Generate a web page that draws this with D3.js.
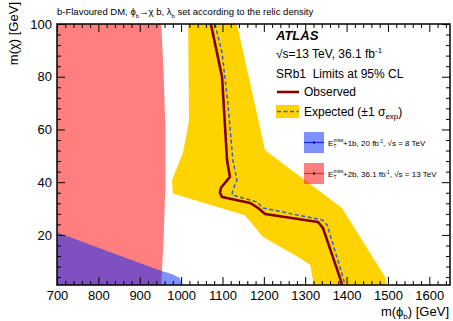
<!DOCTYPE html>
<html>
<head>
<meta charset="utf-8">
<script src="https://d3js.org/d3.v7.min.js"></script>
<style>
  body { margin: 0; background: #fff; }
  svg text { font-family: "Liberation Sans", Arial, sans-serif; fill: #000; }
</style>
</head>
<body>
<div id="chart"></div>
<script>
// ---- data: [m(phi_b) GeV, m(chi) GeV] ----
var observed = [[1072,100],[1099,79.9],[1111,48.4],[1118,42],[1096,37.8],[1094,35.9],[1099,34.4],
  [1167,32.1],[1186,30.2],[1203,27.9],[1331,24.9],[1343,22.6],[1384,3.7],[1389,1]];
var expected = [[1082,100],[1099,89],[1113,70],[1125,48.4],[1135,40.8],[1125,37],[1123,35.2],
  [1183,32.5],[1198,30.2],[1341,25.7],[1353,23.8],[1391,4.1],[1396,1]];
var bandUpper = [[1135,100],[1203,52.1],[1389,30.2],[1493,4],[1498,1]];
var bandLower = [[1017,100],[1019,63.3],[1005,51.5],[978,40.6],[980,35.7],[1154,27.5],
  [1198,19.2],[1287,11.2],[1312,8.6],[1321,1]];
var excl13 = [[700,100],[952,100],[958,80],[962,60],[962,40],[958,20],[952,1],[700,1]];
var excl8 = [[700,1],[700,21],[800,15.1],[900,9.3],[950,6.5],[980,5],[997,3.7],[1003,1]];
var xMajor = [700,800,900,1000,1100,1200,1300,1400,1500,1600];
var yMajor = [20,40,60,80,100];

var W = 453, H = 321;
var margin = {top: 24, right: 3, bottom: 36, left: 57},
    width = W - margin.left - margin.right,
    height = H - margin.top - margin.bottom;

var svg = d3.select("#chart").append("svg")
    .attr("width", W).attr("height", H);

var g = svg.append("g")
    .attr("transform", "translate(" + margin.left + "," + margin.top + ")");

var x = d3.scaleLinear().domain([700, 1650]).range([0, width]);
var y = d3.scaleLinear().domain([1, 100]).range([height, 0]);

g.append("clipPath").attr("id", "clip")
  .append("rect").attr("width", width).attr("height", height);

var plot = g.append("g").attr("clip-path", "url(#clip)");
var line = d3.line().x(function(d) { return x(d[0]); }).y(function(d) { return y(d[1]); });
var area = d3.line().x(function(d) { return x(d[0]); }).y(function(d) { return y(d[1]); }).curve(d3.curveLinearClosed);

// exclusion regions from earlier analyses
plot.append("path").datum(excl13)
    .attr("d", area)
    .attr("fill", "#ff0000").attr("fill-opacity", 0.5);
plot.append("path").datum(excl8)
    .attr("d", area)
    .attr("fill", "#0022ff").attr("fill-opacity", 0.5);

// expected +-1 sigma band
plot.append("path").datum(bandUpper.concat(bandLower.slice().reverse()))
    .attr("d", area)
    .attr("fill", "#ffd300");

plot.append("path").datum(expected)
    .attr("d", line)
    .attr("fill", "none").attr("stroke", "#3a5bd9").attr("stroke-width", 1.5)
    .attr("stroke-dasharray", "4,2.5");

plot.append("path").datum(observed)
    .attr("d", line)
    .attr("fill", "none").attr("stroke", "#800000").attr("stroke-width", 2.6)
    .attr("stroke-linejoin", "round");

// axes with inward ticks on all four sides
var xMinor = d3.range(700, 1651, 20).filter(function(v) { return v % 100 !== 0; });
var yMinor = d3.range(4, 100, 4).filter(function(v) { return v % 20 !== 0; });

function styleAxis(sel) {
  sel.select(".domain").remove();
  sel.selectAll("line").attr("stroke", "#000").attr("stroke-width", 1);
  sel.selectAll("text").style("font-size", "13px").attr("fill", "#000");
}

g.append("g").attr("transform", "translate(0," + height + ")")
  .call(d3.axisBottom(x).tickValues(xMajor).tickSizeInner(-8).tickSizeOuter(0).tickPadding(6).tickFormat(d3.format("d")))
  .call(styleAxis);
g.append("g").attr("transform", "translate(0," + height + ")")
  .call(d3.axisBottom(x).tickValues(xMinor).tickSize(-4).tickFormat(""))
  .call(styleAxis);
g.append("g")
  .call(d3.axisTop(x).tickValues(xMajor).tickSize(-8).tickFormat(""))
  .call(styleAxis);
g.append("g")
  .call(d3.axisTop(x).tickValues(xMinor).tickSize(-4).tickFormat(""))
  .call(styleAxis);
g.append("g")
  .call(d3.axisLeft(y).tickValues(yMajor).tickSizeInner(-8).tickSizeOuter(0).tickPadding(5))
  .call(styleAxis);
g.append("g")
  .call(d3.axisLeft(y).tickValues(yMinor).tickSize(-4).tickFormat(""))
  .call(styleAxis);
g.append("g").attr("transform", "translate(" + width + ",0)")
  .call(d3.axisRight(y).tickValues(yMajor).tickSize(-8).tickFormat(""))
  .call(styleAxis);
g.append("g").attr("transform", "translate(" + width + ",0)")
  .call(d3.axisRight(y).tickValues(yMinor).tickSize(-4).tickFormat(""))
  .call(styleAxis);

g.append("rect").attr("width", width).attr("height", height)
  .attr("fill", "none").attr("stroke", "#000").attr("stroke-width", 1.5);

// axis titles
var xt = svg.append("text").attr("x", 449).attr("y", 316)
  .attr("text-anchor", "end").style("font-size", "13px");
xt.append("tspan").text("m(ϕ");
xt.append("tspan").text("b").style("font-size", "8px").attr("dy", 3);
xt.append("tspan").text(") [GeV]").attr("dy", -3);

svg.append("text")
  .attr("transform", "translate(18,2) rotate(-90)")
  .attr("text-anchor", "end")
  .style("font-size", "13px")
  .text("m(χ) [GeV]");

// header
var ht = svg.append("text").attr("x", 57).attr("y", 15).style("font-size", "9.5px");
ht.append("tspan").text("b-Flavoured DM, ϕ");
ht.append("tspan").text("b").style("font-size", "6px").attr("dy", 2.5);
ht.append("tspan").text("→χ b, λ").attr("dy", -2.5);
ht.append("tspan").text("b").style("font-size", "6px").attr("dy", 2.5);
ht.append("tspan").text(" set according to the relic density").attr("dy", -2.5);

// legend
svg.append("text").attr("x", 276).attr("y", 40)
  .style("font-size", "13px").style("font-weight", "bold").style("font-style", "italic")
  .text("ATLAS");
var lt = svg.append("text").attr("x", 276).attr("y", 58).style("font-size", "12px");
lt.append("tspan").text("√s=13 TeV, 36.1 fb");
lt.append("tspan").text("-1").style("font-size", "8px").attr("dy", -5);
svg.append("text").attr("x", 276).attr("y", 78).style("font-size", "12px")
  .style("white-space", "pre").text("SRb1  Limits at 95% CL");

svg.append("line").attr("x1", 277).attr("x2", 299).attr("y1", 92).attr("y2", 92)
  .attr("stroke", "#800000").attr("stroke-width", 2.6);
svg.append("text").attr("x", 304).attr("y", 96).style("font-size", "12px").text("Observed");

svg.append("rect").attr("x", 276).attr("y", 105).attr("width", 23).attr("height", 13).attr("fill", "#ffd300");
svg.append("line").attr("x1", 277).attr("x2", 299).attr("y1", 111.5).attr("y2", 111.5)
  .attr("stroke", "#3a5bd9").attr("stroke-width", 1.5).attr("stroke-dasharray", "4,2.5");
var et = svg.append("text").attr("x", 304).attr("y", 116).style("font-size", "12px");
et.append("tspan").text("Expected (±1 σ");
et.append("tspan").text("exp").style("font-size", "8px").attr("dy", 3);
et.append("tspan").text(")").attr("dy", -3);

var prior = [
  {fill: "#0022ff", stroke: "#1030ff", y: 132, label: "+1b, 20 fb", tail: ", √s = 8 TeV"},
  {fill: "#ff0000", stroke: "#ff2020", y: 163, label: "+2b, 36.1 fb", tail: ", √s = 13 TeV"}
];
prior.forEach(function(p) {
  svg.append("rect").attr("x", 304).attr("y", p.y).attr("width", 20).attr("height", 21)
    .attr("fill", p.fill).attr("fill-opacity", 0.5);
  svg.append("line").attr("x1", 304).attr("x2", 324).attr("y1", p.y + 10.5).attr("y2", p.y + 10.5)
    .attr("stroke", p.stroke).attr("stroke-width", 1.2);
  svg.append("rect").attr("x", 313).attr("y", p.y + 9.5).attr("width", 2).attr("height", 2).attr("fill", "#000");
  var ty = p.y + 14;
  svg.append("text").attr("x", 328).attr("y", ty).style("font-size", "8px").text("E");
  svg.append("text").attr("x", 333.5).attr("y", ty - 4.5).style("font-size", "4.8px").text("miss");
  svg.append("text").attr("x", 333.5).attr("y", ty + 2).style("font-size", "4.8px").text("T");
  var t = svg.append("text").attr("x", 343).attr("y", ty).style("font-size", "8px");
  t.append("tspan").text(p.label);
  t.append("tspan").text("-1").style("font-size", "4.8px").attr("dy", -3);
  t.append("tspan").text(p.tail).attr("dy", 3);
});
</script>
</body>
</html>
